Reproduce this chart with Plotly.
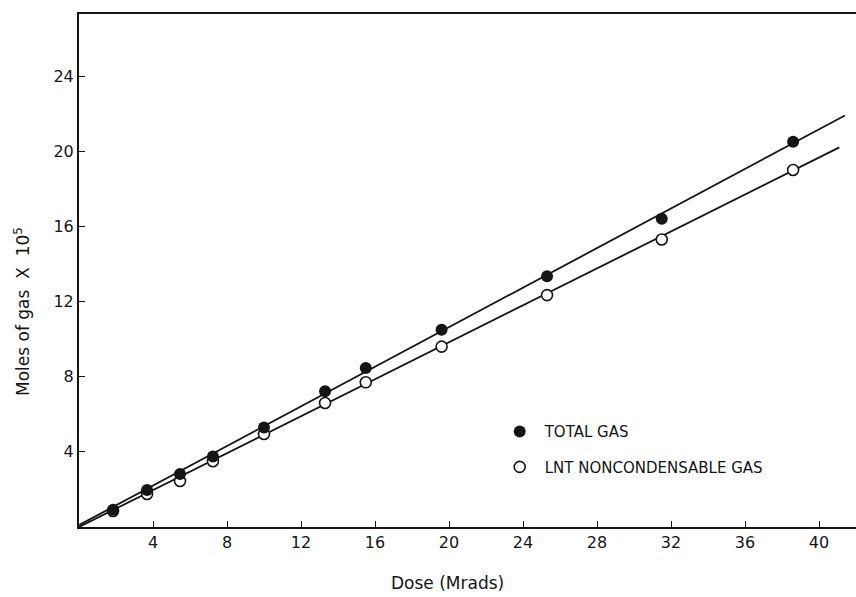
import plotly.graph_objects as go

# Data
dose_total = [1.84, 3.68, 5.46, 7.24, 10.0, 13.3, 15.5, 19.6, 25.3, 31.5, 38.6]
gas_total = [0.92, 1.97, 2.82, 3.75, 5.3, 7.23, 8.46, 10.5, 13.35, 16.4, 20.5]

dose_lnt = [1.84, 3.68, 5.46, 7.24, 10.0, 13.3, 15.5, 19.6, 25.3, 31.5, 38.6]
gas_lnt = [0.85, 1.76, 2.45, 3.5, 4.95, 6.6, 7.7, 9.6, 12.34, 15.3, 19.0]

fit_total_x = [0.0, 41.4]
fit_total_y = [0.1, 21.9]
fit_lnt_x = [0.0, 41.1]
fit_lnt_y = [0.0, 20.2]

x_ticks = [4, 8, 12, 16, 20, 24, 28, 32, 36, 40]
y_ticks = [4, 8, 12, 16, 20, 24]

INK = "#151515"
FONT = "DejaVu Sans"

fig = go.Figure()
fig.add_trace(go.Scatter(x=fit_total_x, y=fit_total_y, mode="lines",
                         line=dict(color=INK, width=1.8), showlegend=False, hoverinfo="skip"))
fig.add_trace(go.Scatter(x=fit_lnt_x, y=fit_lnt_y, mode="lines",
                         line=dict(color=INK, width=1.8), showlegend=False, hoverinfo="skip"))
fig.add_trace(go.Scatter(x=dose_lnt, y=gas_lnt, mode="markers", name="LNT NONCONDENSABLE GAS",
                         legendrank=2, legendgroup="b",
                         marker=dict(symbol="circle", size=11, color="white",
                                     line=dict(color=INK, width=1.6))))
fig.add_trace(go.Scatter(x=dose_total, y=gas_total, mode="markers", name="TOTAL GAS",
                         legendrank=1, legendgroup="a",
                         marker=dict(symbol="circle", size=12, color=INK,
                                     line=dict(color=INK, width=0))))

fig.update_layout(
    width=856, height=597,
    margin=dict(l=79, r=0, t=14, b=70),
    paper_bgcolor="white", plot_bgcolor="white",
    font=dict(family=FONT, color=INK, size=15),
    legend=dict(x=0.535, y=0.218, xanchor="left", yanchor="top",
                bgcolor="rgba(0,0,0,0)", font=dict(size=15, family=FONT),
                itemwidth=40,
                tracegroupgap=13, traceorder="grouped"),
    xaxis=dict(range=[0, 42.0], tickvals=x_ticks, ticks="inside", ticklen=6,
               tickwidth=1.3, tickcolor=INK, showline=True, linecolor=INK,
               linewidth=2, mirror=True, showgrid=False, zeroline=False,
               tickfont=dict(size=16, family=FONT, color=INK)),
    yaxis=dict(range=[0, 27.3], tickvals=y_ticks, ticks="inside", ticklen=6,
               tickwidth=1.3, tickcolor=INK, showline=True, linecolor=INK,
               linewidth=2, showgrid=False, zeroline=False,
               tickfont=dict(size=16, family=FONT, color=INK)),
    annotations=[
        dict(text="Dose (Mrads)", x=447, y=583, xref="paper", yref="paper",
             xanchor="center", yanchor="middle",
             showarrow=False, font=dict(size=17, family=FONT, color=INK)),
        dict(text="Moles of gas  X  10<sup>5</sup>", x=22, y=312, textangle=-90,
             xref="paper", yref="paper", xanchor="center", yanchor="middle",
             showarrow=False, font=dict(size=17, family=FONT, color=INK)),
    ],
)

# convert pixel-based annotation anchors to paper coordinates of the plot area
pl, pt, pw, ph = 79, 14, 856 - 79, 597 - 14 - 70
for a in fig.layout.annotations:
    a.x = (a.x - pl) / pw
    a.y = 1 - (a.y - pt) / ph

fig.write_html("out.html")
